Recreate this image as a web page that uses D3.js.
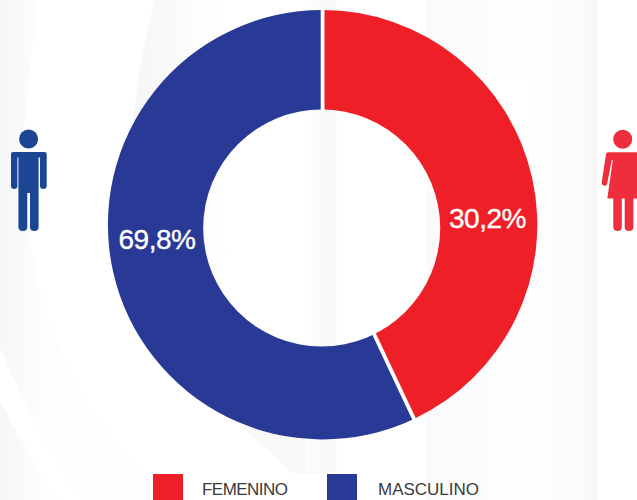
<!DOCTYPE html>
<html>
<head>
<meta charset="utf-8">
<script src="https://cdn.jsdelivr.net/npm/d3@7"></script>
<style>
html,body{margin:0;padding:0;background:#fff;overflow:hidden}
svg{display:block}
text{font-family:"Liberation Sans",Arial,sans-serif}
</style>
</head>
<body>
<svg id="c" width="637" height="500"></svg>
<script>
const categories = ["FEMENINO", "MASCULINO"];
const sliceShares = [43, 57];           // drawn angular shares as read from the ring
const sliceLabels = ["30,2%", "69,8%"]; // printed labels
const sliceColors = ["#ef1f27", "#293a96"];

const W = 637, H = 500, cx = 322.6, cy = 224.7, R = 214.7, holeR = 118.5, holeCy = 228, holeCx = 321.7;
const svg = d3.select("#c");
const defs = svg.append("defs");

function grad(id, x1, x2, stops) {
  const g = defs.append("linearGradient").attr("id", id).attr("gradientUnits", "userSpaceOnUse")
    .attr("x1", x1).attr("x2", x2).attr("y1", 0).attr("y2", 0);
  stops.forEach(s => g.append("stop").attr("offset", s[0]).attr("stop-color", s[1]));
}
grad("gL", 0, 40, [[0, "#f7f7f7"], [0.6, "#fafafa"], [1, "#fdfdfd"]]);
grad("gM", 130, 230, [[0, "#f5f5f5"], [0.6, "#fcfcfc"], [1, "#ffffff"]]);
grad("gC", 305, 338, [[0, "#fdfdfd"], [0.7, "#f9f9f9"], [1, "#fbfbfb"]]);
grad("gR", 427, 597, [[0, "#fafafa"], [0.3, "#fcfcfc"], [0.6, "#fefefe"], [0.88, "#fbfbfb"], [1, "#f6f6f6"]]);

// faint watermark behind the chart
const bg = svg.append("g");
bg.append("path").attr("fill", "url(#gL)")
  .attr("d", "M0,0 L39,0 Q20,130 24,170 Q27,270 60,350 Q95,430 153,483 L170,500 L0,500 Z");
bg.append("path").attr("fill", "#ffffff")
  .attr("d", "M0,347 Q35,430 82,500 L58,500 Q25,450 0,400 Z");
bg.append("path").attr("fill", "url(#gM)")
  .attr("d", "M155,0 L320,0 L320,460 L292,473 L243,427 Q135,330 134,115 Q140,55 155,0 Z");
bg.append("path").attr("fill", "#f8f8f8").attr("d", "M243,427 L292,473 L320,473 L320,430 Z");
bg.append("rect").attr("x", 305).attr("y", 0).attr("width", 32).attr("height", 472).attr("fill", "url(#gC)");
bg.append("rect").attr("x", 427).attr("y", 0).attr("width", 170).attr("height", 500).attr("fill", "url(#gR)");
bg.append("rect").attr("x", 430).attr("y", 79).attr("width", 103).attr("height", 113).attr("fill", "#ffffff");

// hole of the ring sits slightly off the outer circle's centre
const mask = defs.append("mask").attr("id", "hole").attr("maskUnits", "userSpaceOnUse")
  .attr("x", 0).attr("y", 0).attr("width", W).attr("height", H);
mask.append("rect").attr("width", W).attr("height", H).attr("fill", "#fff");
mask.append("circle").attr("cx", holeCx).attr("cy", holeCy).attr("r", holeR).attr("fill", "#000");

const pie = d3.pie().sort(null).startAngle(0).endAngle(2 * Math.PI);
const arc = d3.arc().innerRadius(0).outerRadius(R);
const slices = pie(sliceShares);

const ring = svg.append("g").attr("mask", "url(#hole)")
  .append("g").attr("transform", `translate(${cx},${cy})`);
ring.selectAll("path.slice").data(slices).join("path").attr("class", "slice")
  .attr("d", arc).attr("fill", (d, i) => sliceColors[i]);
// white separators along the slice boundaries
ring.selectAll("line.sep").data(slices).join("line").attr("class", "sep")
  .attr("x1", 0).attr("y1", 0)
  .attr("x2", d => (R + 3) * Math.sin(d.startAngle))
  .attr("y2", d => -(R + 3) * Math.cos(d.startAngle))
  .attr("stroke", "#fff").attr("stroke-width", 3.8);

// value labels
const labelPos = [[487.5, 228], [157, 249]];
svg.selectAll("text.val").data(sliceLabels).join("text").attr("class", "val")
  .attr("x", (d, i) => labelPos[i][0]).attr("y", (d, i) => labelPos[i][1])
  .attr("text-anchor", "middle").attr("fill", "#fff").attr("stroke", "#fff").attr("stroke-width", 0.35)
  .attr("font-size", 28).attr("letter-spacing", -0.5).text(d => d);

// icons
const man = svg.append("g").attr("fill", "#1c4693");
man.append("circle").attr("cx", 28.6).attr("cy", 139).attr("r", 9.5);
man.append("path").attr("d",
  "M13,152 H44.5 Q46.7,152 46.7,154 V186 Q46.7,189 43.4,189 Q40,189 40,186 V157.5 H38.6 V227 Q38.6,231 34.3,231 Q30,231 30,227 V193 H27.3 V227 Q27.3,231 22.9,231 Q18.4,231 18.4,227 V157.5 H17.4 V186 Q17.4,189 14.2,189 Q11,189 11,186 V154 Q11,152 13,152 Z");
const woman = svg.append("g").attr("fill", "#ee2e3d");
woman.append("circle").attr("cx", 622.7).attr("cy", 139.3).attr("r", 9.5);
woman.append("path").attr("d",
  "M608,152.3 H637.5 L639,160 L639,198.5 H633.4 V227 Q633.4,231 629,231 Q624.7,231 624.7,227 V198.5 H621.8 V227 Q621.8,231 617.5,231 Q613.3,231 613.3,227 V198.5 H607.3 L612.8,160 H611.8 L607.3,183 Q606.8,186 604,185.8 Q601.3,185 601.7,182.5 L606,154 Q606.3,152.3 608,152.3 Z");

// legend
const legendX = d3.scaleOrdinal().domain(categories).range([153, 327]);
const legendTextX = d3.scaleOrdinal().domain(categories).range([202, 378]);
const legendTextW = d3.scaleOrdinal().domain(categories).range([86, 101]);
const lg = svg.append("g");
lg.selectAll("rect").data(categories).join("rect")
  .attr("x", d => legendX(d)).attr("y", 474).attr("width", 30).attr("height", 26)
  .attr("fill", (d, i) => sliceColors[i]);
lg.selectAll("text").data(categories).join("text")
  .attr("x", d => legendTextX(d)).attr("y", 495)
  .attr("fill", "#3a3a3a").attr("font-size", 17)
  .attr("textLength", d => legendTextW(d)).attr("lengthAdjust", "spacing")
  .text(d => d);
</script>
</body>
</html>
